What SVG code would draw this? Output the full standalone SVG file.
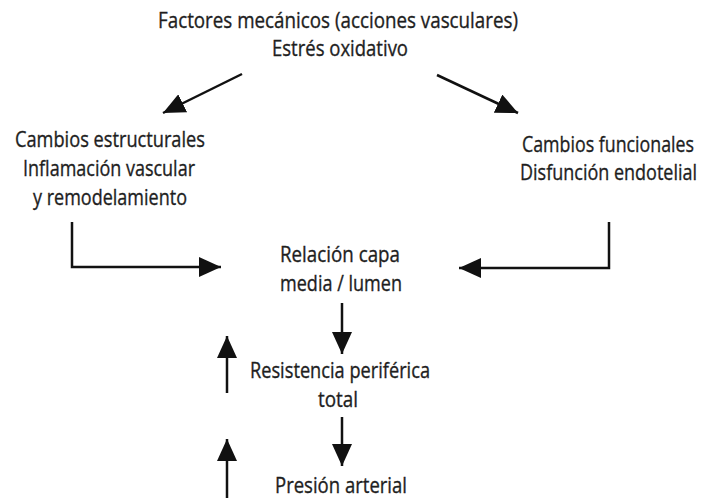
<svg xmlns="http://www.w3.org/2000/svg" width="701" height="498" viewBox="0 0 701 498">
<style>
text{font-family:"Open Sans","DejaVu Sans",sans-serif;font-size:22px;fill:#1e1e1e;stroke:#1e1e1e;stroke-width:0.35;text-anchor:middle}
.e{text-anchor:end}
.c{stroke:#111;stroke-width:2.5;fill:none}
</style>
<defs>
<marker id="ah" viewBox="0 0 22 20" refX="22" refY="10" markerWidth="22" markerHeight="20" markerUnits="userSpaceOnUse" orient="auto">
<path d="M0,0L22,10L0,20Z" fill="#111"/>
</marker>
</defs>
<rect width="701" height="498" fill="#fff"/>
<g id="top">
<text x="338" y="28" textLength="360" lengthAdjust="spacingAndGlyphs">Factores mecánicos (acciones vasculares)</text>
<text x="340" y="56" textLength="136" lengthAdjust="spacingAndGlyphs">Estrés oxidativo</text>
</g>
<g id="left">
<text x="110" y="147" textLength="190" lengthAdjust="spacingAndGlyphs">Cambios estructurales</text>
<text x="109" y="176" textLength="172" lengthAdjust="spacingAndGlyphs">Inflamación vascular</text>
<text x="110" y="205" textLength="154" lengthAdjust="spacingAndGlyphs">y remodelamiento</text>
</g>
<g id="right">
<text class="e" x="694" y="152" textLength="172" lengthAdjust="spacingAndGlyphs">Cambios funcionales</text>
<text class="e" x="697" y="180" textLength="177" lengthAdjust="spacingAndGlyphs">Disfunción endotelial</text>
</g>
<g id="relacion">
<text x="340" y="262" textLength="120" lengthAdjust="spacingAndGlyphs">Relación capa</text>
<text x="341" y="291" textLength="122" lengthAdjust="spacingAndGlyphs">media / lumen</text>
</g>
<g id="resistencia">
<text x="340" y="378" textLength="180" lengthAdjust="spacingAndGlyphs">Resistencia periférica</text>
<text x="338" y="407" textLength="40" lengthAdjust="spacingAndGlyphs">total</text>
</g>
<g id="presion">
<text x="341" y="493" textLength="132" lengthAdjust="spacingAndGlyphs">Presión arterial</text>
</g>
<g id="connectors">
<path class="c" d="M242,74L163,113" marker-end="url(#ah)"/>
<path class="c" d="M437,75L518,113" marker-end="url(#ah)"/>
<path class="c" d="M72,222V267H221" marker-end="url(#ah)"/>
<path class="c" d="M609,222V268H459" marker-end="url(#ah)"/>
<path class="c" d="M342,303V354" marker-end="url(#ah)"/>
<path class="c" d="M342,417V466" marker-end="url(#ah)"/>
<path class="c" d="M227,393V336" marker-end="url(#ah)"/>
<path class="c" d="M227,498V439" marker-end="url(#ah)"/>
</g>
</svg>
